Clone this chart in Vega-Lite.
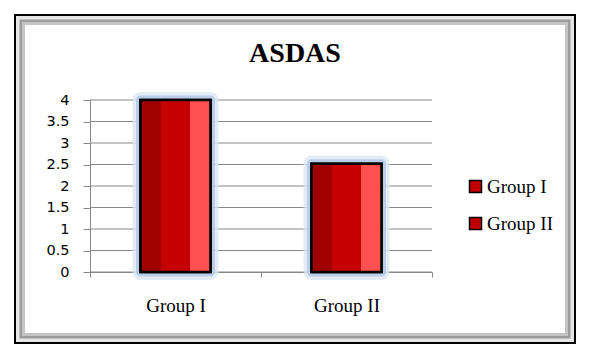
{
  "$schema": "https://vega.github.io/schema/vega-lite/v6.json",
  "width": 558,
  "height": 326,
  "autosize": {"type": "none"},
  "padding": {"left": 16, "top": 16, "right": 18, "bottom": 21},
  "background": "white",
  "title": {
    "text": "ASDAS",
    "font": "Liberation Serif",
    "fontSize": 28,
    "fontWeight": "bold",
    "color": "#000000",
    "anchor": "middle",
    "offset": -52
  },
  "datasets": {
    "bars": [
      {"group": "Group I", "value": 4.0},
      {"group": "Group II", "value": 2.52}
    ],
    "grid": [
      {"v": 0}, {"v": 0.5}, {"v": 1}, {"v": 1.5}, {"v": 2},
      {"v": 2.5}, {"v": 3}, {"v": 3.5}, {"v": 4}
    ]
  },
  "config": {
    "view": {"stroke": "#000000", "strokeWidth": 4, "fill": "white"}
  },
  "layer": [
    {
      "data": {"values": [{"k": 1}]},
      "mark": {"type": "rect", "clip": true, "fill": "transparent", "stroke": "#c4c4c4", "strokeWidth": 18},
      "encoding": {}
    },
    {
      "data": {"values": [{"k": 1}]},
      "mark": {"type": "rect", "clip": true, "fill": "transparent", "stroke": "#9c9c9c", "strokeWidth": 12},
      "encoding": {}
    },
    {
      "data": {"values": [{"k": 1}]},
      "mark": {"type": "rect", "clip": true, "fill": "transparent", "stroke": "#e6e6e6", "strokeWidth": 7},
      "encoding": {}
    },
    {
      "data": {"name": "grid"},
      "mark": {"type": "rule", "color": "#888888", "strokeWidth": 1},
      "encoding": {
        "y": {
          "field": "v", "type": "quantitative", "title": null,
          "scale": {"domain": [0, 4], "range": [256, 84], "nice": false, "zero": true},
          "axis": {
            "orient": "left", "offset": -74, "grid": false,
            "values": [0, 0.5, 1, 1.5, 2, 2.5, 3, 3.5, 4],
            "format": "~g",
            "domainColor": "#888888", "tickColor": "#888888", "tickSize": 7,
            "labelPadding": 14, "labelFont": "DejaVu Sans", "labelFontSize": 14.5,
            "labelColor": "#000000"
          }
        },
        "x": {"datum": 0, "type": "quantitative", "scale": {"domain": [0, 1], "range": [74, 416]}, "axis": null},
        "x2": {"datum": 1}
      }
    },
    {
      "data": {"name": "bars"},
      "encoding": {
        "x": {
          "field": "group", "type": "nominal", "title": null,
          "scale": {"domain": ["Group I", "Group II"], "range": [74, 416], "paddingInner": 0, "paddingOuter": 0},
          "axis": {
            "orient": "bottom", "offset": -70, "labelAngle": 0,
            "tickBand": "extent", "tickSize": 5, "tickColor": "#888888",
            "domainColor": "#888888", "labelPadding": 19,
            "labelFont": "Liberation Serif", "labelFontSize": 19, "labelColor": "#000000"
          }
        },
        "y": {"field": "value", "type": "quantitative", "title": null, "scale": {"domain": [0, 4], "range": [256, 84], "nice": false}}
      },
      "layer": [
        {
          "mark": {"type": "bar", "size": 70, "fill": "transparent", "stroke": "#dce6f2", "strokeWidth": 16, "strokeOpacity": 0.8, "strokeJoin": "round"}
        },
        {
          "mark": {"type": "bar", "size": 70, "fill": "transparent", "stroke": "#b4c9e6", "strokeWidth": 9, "strokeOpacity": 0.85, "strokeJoin": "round"}
        },
        {
          "mark": {"type": "bar", "size": 70, "stroke": "#000000", "strokeWidth": 2.5},
          "encoding": {
            "fill": {
              "field": "group", "type": "nominal",
              "scale": {"domain": ["Group I", "Group II"], "range": ["#c00000", "#c00000"]},
              "legend": {
                "title": null, "orient": "none", "legendX": 450, "legendY": 161,
                "symbolType": "square", "symbolSize": 144, "symbolStrokeColor": "#000000",
                "symbolStrokeWidth": 1.5, "labelFont": "Liberation Serif", "labelFontSize": 19,
                "labelColor": "#000000", "labelOffset": 2, "rowPadding": 17, "padding": 0
              }
            }
          }
        },
        {
          "mark": {
            "type": "bar", "size": 70, "stroke": "#000000", "strokeWidth": 2.5,
            "fill": {
              "gradient": "linear", "x1": 0, "y1": 0, "x2": 1, "y2": 0,
              "stops": [
                {"offset": 0, "color": "#a00000"},
                {"offset": 0.29, "color": "#a00000"},
                {"offset": 0.29, "color": "#c60000"},
                {"offset": 0.71, "color": "#c60000"},
                {"offset": 0.71, "color": "#ff5050"},
                {"offset": 1, "color": "#ff5050"}
              ]
            }
          }
        }
      ]
    }
  ],
  "resolve": {"scale": {"x": "independent"}}
}
